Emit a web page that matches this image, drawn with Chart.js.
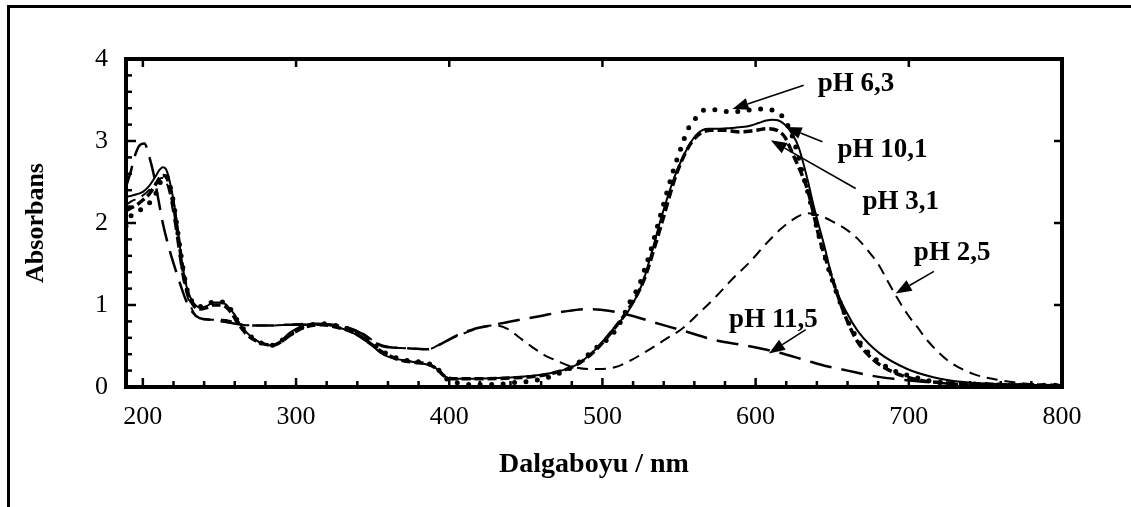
<!DOCTYPE html>
<html><head><meta charset="utf-8">
<script src="https://cdn.jsdelivr.net/npm/chart.js@4/dist/chart.umd.min.js"></script>
<style>html,body{margin:0;padding:0;background:#fff}#wrap{position:relative;width:1131px;height:507px}</style>
</head><body><div id="wrap"><canvas id="c" width="1131" height="507"></canvas></div>
<script>
// Tick labels
const xTicks = [200, 300, 400, 500, 600, 700, 800];
const yTicks = [0, 1, 2, 3, 4];
const seriesNames = ['pH 6,3', 'pH 10,1', 'pH 3,1', 'pH 2,5', 'pH 11,5'];

// Series: [wavelength nm, absorbance]
const ph63 = [[189,1.96],[192,2.08],[195,2.12],[200,2.18],[204,2.24],[208,2.34],[211,2.48],[213,2.56],[215,2.58],[217,2.5],[220,2.25],[223,1.86],[226,1.47],[229,1.18],[233,1.02],[237,0.98],[242,1.0],[246,1.04],[250,1.04],[254,1.02],[258,0.93],[262,0.8],[268,0.66],[274,0.57],[280,0.52],[285,0.51],[290,0.56],[296,0.64],[302,0.71],[310,0.76],[318,0.77],[326,0.75],[334,0.71],[342,0.64],[350,0.53],[356,0.44],[362,0.38],[370,0.33],[378,0.31],[386,0.29],[392,0.23],[397,0.12],[402,0.06],[407,0.05],[414,0.03],[423,0.03],[432,0.03],[439,0.05],[448,0.06],[456,0.08],[465,0.12],[472,0.17],[480,0.24],[488,0.35],[496,0.48],[506,0.63],[512,0.8],[518,1.04],[524,1.24],[528,1.46],[531,1.63],[538,2.1],[546,2.62],[551,2.9],[556,3.15],[561,3.28],[567,3.38],[573,3.38],[581,3.36],[589,3.36],[596,3.38],[605,3.39],[612,3.37],[619,3.26],[625,3.0],[630,2.65],[634,2.38],[642,1.8],[649,1.36],[658,0.9],[666,0.6],[677,0.36],[690,0.2],[700,0.14],[715,0.07],[740,0.04],[770,0.02],[800,0.02]];

const ph101 = [[189,2.32],[192,2.33],[196,2.35],[200,2.38],[204,2.45],[208,2.56],[211,2.65],[213,2.68],[215,2.66],[217,2.55],[220,2.28],[223,1.88],[226,1.47],[229,1.19],[233,1.03],[237,0.97],[242,0.99],[246,1.03],[250,1.03],[254,1.01],[257,0.95],[260,0.88],[264,0.75],[268,0.66],[273,0.58],[278,0.53],[284,0.505],[290,0.56],[295,0.65],[300,0.71],[306,0.76],[312,0.77],[318,0.77],[325,0.74],[332,0.7],[338,0.65],[344,0.58],[350,0.5],[355,0.42],[360,0.37],[366,0.34],[372,0.32],[378,0.3],[384,0.28],[390,0.25],[394,0.18],[398,0.12],[402,0.1],[410,0.1],[420,0.1],[430,0.11],[443,0.12],[456,0.14],[469,0.18],[482,0.26],[495,0.45],[508,0.73],[517,0.93],[526,1.26],[532,1.63],[538,2.04],[547,2.56],[556,2.93],[562,3.09],[569,3.15],[577,3.15],[584,3.16],[591,3.17],[597,3.19],[602,3.22],[607,3.25],[611,3.26],[615,3.25],[619,3.2],[623,3.11],[628,2.93],[634,2.52],[638,2.2],[645,1.71],[651,1.26],[660,0.89],[668,0.65],[681,0.41],[699,0.22],[716,0.12],[736,0.06],[768,0.03],[800,0.02]];

const ph31 = [[189,2.15],[192,2.18],[196,2.22],[200,2.28],[204,2.35],[208,2.46],[211,2.55],[213,2.58],[215,2.57],[217,2.48],[220,2.22],[223,1.85],[226,1.45],[229,1.17],[233,1.0],[237,0.95],[242,0.97],[246,1.0],[250,1.0],[254,0.98],[258,0.9],[262,0.78],[268,0.64],[274,0.56],[280,0.52],[285,0.51],[290,0.55],[296,0.63],[302,0.7],[310,0.75],[318,0.76],[326,0.73],[334,0.69],[342,0.62],[350,0.51],[356,0.43],[362,0.37],[370,0.32],[378,0.3],[386,0.28],[392,0.22],[397,0.13],[402,0.1],[420,0.1],[440,0.11],[456,0.13],[470,0.18],[483,0.27],[495,0.44],[508,0.72],[518,0.98],[527,1.3],[534,1.7],[540,2.08],[548,2.58],[556,2.92],[563,3.08],[571,3.13],[580,3.13],[590,3.11],[600,3.13],[608,3.15],[614,3.13],[619,3.05],[625,2.81],[630,2.6],[634,2.4],[642,1.79],[649,1.38],[658,0.89],[666,0.57],[677,0.33],[690,0.18],[708,0.08],[725,0.05],[760,0.03],[800,0.02]];

const ph25 = [[189,2.22],[193,2.27],[197,2.3],[201,2.35],[205,2.42],[209,2.5],[212,2.55],[214,2.54],[217,2.4],[220,2.1],[223,1.72],[226,1.35],[230,1.05],[234,0.88],[238,0.83],[245,0.82],[252,0.82],[258,0.8],[265,0.76],[275,0.75],[285,0.75],[295,0.76],[305,0.77],[315,0.77],[325,0.76],[335,0.72],[343,0.66],[350,0.57],[356,0.51],[365,0.48],[375,0.47],[386,0.46],[395,0.53],[405,0.62],[415,0.69],[424,0.74],[430,0.75],[438,0.71],[446,0.6],[454,0.49],[462,0.39],[469,0.33],[478,0.26],[491,0.22],[500,0.22],[508,0.24],[518,0.32],[530,0.45],[541,0.58],[552,0.71],[563,0.9],[574,1.1],[585,1.32],[596,1.52],[607,1.75],[616,1.92],[625,2.05],[634,2.12],[642,2.09],[651,2.01],[660,1.91],[667,1.8],[673,1.67],[680,1.5],[686,1.3],[692,1.1],[699,0.89],[706,0.72],[712,0.57],[725,0.33],[742,0.16],[760,0.08],[777,0.04],[800,0.02]];

const ph115 = [[189,2.44],[192,2.62],[195,2.83],[198,2.95],[201,2.97],[204,2.82],[207,2.6],[210,2.3],[213,2.0],[217,1.7],[221,1.45],[225,1.22],[229,1.02],[233,0.9],[237,0.84],[245,0.82],[252,0.8],[258,0.78],[265,0.76],[275,0.75],[285,0.75],[295,0.76],[305,0.76],[315,0.76],[325,0.75],[335,0.71],[343,0.65],[350,0.56],[356,0.5],[365,0.48],[375,0.47],[386,0.46],[395,0.53],[405,0.63],[415,0.7],[427,0.75],[440,0.8],[458,0.86],[475,0.92],[490,0.95],[504,0.93],[521,0.86],[537,0.77],[552,0.69],[574,0.57],[595,0.5],[615,0.42],[632,0.33],[645,0.26],[660,0.2],[675,0.14],[690,0.1],[712,0.06],[740,0.03],[770,0.02],[800,0.02]];

// Annotation label anchors (data units) and arrows
const notes = [
  {text: 'pH 6,3',  at: [640.5, 3.70], from: [631.4, 3.68], to: [584.9, 3.39]},
  {text: 'pH 10,1', at: [653.4, 2.89], from: [643.6, 2.99], to: [619.6, 3.17]},
  {text: 'pH 3,1',  at: [669.7, 2.26], from: [665.3, 2.42], to: [609.9, 3.01]},
  {text: 'pH 2,5',  at: [703.3, 1.63], from: [716.4, 1.41], to: [691.4, 1.14]},
  {text: 'pH 11,5', at: [582.7, 0.82], from: [632.7, 0.70], to: [608.7, 0.41]}
];

const SERIF = "'Liberation Serif', 'Times New Roman', serif";
const toXY = arr => arr.map(p => ({x: p[0], y: p[1]}));

const styles = [
  {data: ph63,  borderWidth: 5,   borderDash: [0, 11.5], borderCapStyle: 'round'},
  {data: ph101, borderWidth: 2,   borderDash: []},
  {data: ph31,  borderWidth: 3.5, borderDash: [9, 4]},
  {data: ph25,  borderWidth: 2,   borderDash: [11, 7]},
  {data: ph115, borderWidth: 2.5, borderDash: [22, 10]}
];

const decor = {
  id: 'decor',
  afterDraw(chart) {
    const {ctx, chartArea: a, scales: {x, y}} = chart;
    ctx.save();
    ctx.strokeStyle = '#000';
    ctx.fillStyle = '#000';
    // outer frame
    ctx.lineWidth = 3;
    ctx.beginPath(); ctx.moveTo(8.5, 507); ctx.lineTo(8.5, 6.5); ctx.lineTo(1131, 6.5); ctx.stroke();
    // plot box
    ctx.lineWidth = 4;
    ctx.strokeRect(a.left, a.top, a.right - a.left, a.bottom - a.top);
    // ticks
    ctx.lineWidth = 2.5;
    const line = (x1, y1, x2, y2) => { ctx.beginPath(); ctx.moveTo(x1, y1); ctx.lineTo(x2, y2); ctx.stroke(); };
    for (let v = 0; v <= 4.0001; v += 0.2) {
      const py = y.getPixelForValue(v);
      const major = Math.abs(v - Math.round(v)) < 1e-6;
      line(a.left, py, a.left + (major ? 10 : 6), py);
      if (major) line(a.right, py, a.right - 8, py);
    }
    for (let v = 200; v <= 800; v += 20) {
      const px = x.getPixelForValue(v);
      const major = v % 100 === 0;
      line(px, a.bottom, px, a.bottom - (major ? 9 : 6));
      if (major) line(px, a.top, px, a.top + 8);
    }
    // annotations
    ctx.font = "bold 27px " + SERIF;
    ctx.textBaseline = 'middle';
    ctx.textAlign = 'left';
    notes.forEach(n => {
      ctx.fillText(n.text, x.getPixelForValue(n.at[0]), y.getPixelForValue(n.at[1]));
      const x1 = x.getPixelForValue(n.from[0]), y1 = y.getPixelForValue(n.from[1]);
      const x2 = x.getPixelForValue(n.to[0]),   y2 = y.getPixelForValue(n.to[1]);
      const ang = Math.atan2(y2 - y1, x2 - x1);
      const L = 16, W = 6;
      const bx = x2 - L * Math.cos(ang), by = y2 - L * Math.sin(ang);
      ctx.lineWidth = 1.6;
      line(x1, y1, bx, by);
      ctx.beginPath();
      ctx.moveTo(x2, y2);
      ctx.lineTo(bx + W * Math.sin(ang), by - W * Math.cos(ang));
      ctx.lineTo(bx - W * Math.sin(ang), by + W * Math.cos(ang));
      ctx.closePath(); ctx.fill();
    });
    ctx.restore();
  }
};

new Chart(document.getElementById('c'), {
  type: 'scatter',
  data: {
    datasets: styles.map((s, i) => ({
      label: seriesNames[i],
      data: toXY(s.data),
      showLine: true,
      borderColor: '#000',
      backgroundColor: '#000',
      borderWidth: s.borderWidth,
      borderDash: s.borderDash,
      borderCapStyle: s.borderCapStyle || 'butt',
      pointRadius: 0,
      cubicInterpolationMode: 'monotone',
      fill: false
    }))
  },
  options: {
    responsive: false,
    animation: false,
    layout: {padding: {top: 59, right: 69, left: 0, bottom: 0}},
    plugins: {legend: {display: false}, tooltip: {enabled: false}},
    scales: {
      x: {
        type: 'linear', min: 189, max: 800,
        afterBuildTicks: s => { s.ticks = xTicks.map(v => ({value: v})); },
        afterFit: s => { s.height = 120; },
        grid: {display: false, drawTicks: false},
        border: {display: false},
        ticks: {color: '#000', font: {family: SERIF, size: 26}, padding: 15, maxRotation: 0, autoSkip: false},
        title: {display: true, text: 'Dalgaboyu / nm', color: '#000',
                font: {family: SERIF, size: 28, weight: 'bold'}, padding: {top: 0, bottom: 25}}
      },
      y: {
        type: 'linear', min: 0, max: 4,
        afterBuildTicks: s => { s.ticks = yTicks.map(v => ({value: v})); },
        afterFit: s => { s.width = 126; },
        grid: {display: false, drawTicks: false},
        border: {display: false},
        ticks: {color: '#000', font: {family: SERIF, size: 26}, padding: 18},
        title: {display: true, text: 'Absorbans', color: '#000',
                font: {family: SERIF, size: 26, weight: 'bold'}, padding: {top: 21, bottom: 0}}
      }
    }
  },
  plugins: [decor]
});
</script>
</body></html>
